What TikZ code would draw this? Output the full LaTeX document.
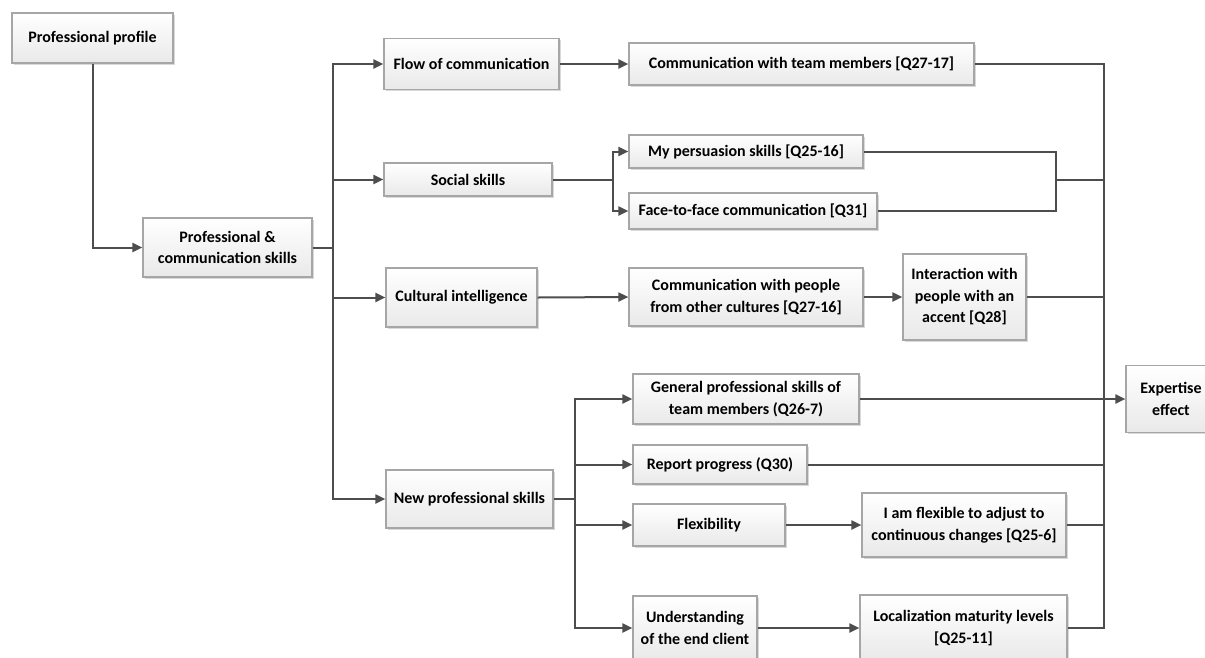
\documentclass[tikz,border=0pt]{standalone}
\usepackage{fontspec}
\setmainfont{Carlito}
\usetikzlibrary{arrows.meta,shadows}
\definecolor{linec}{HTML}{4D4D4D}
\definecolor{boxline}{HTML}{A6A6A6}
\definecolor{boxbot}{HTML}{E9E9E9}
\begin{document}
\begin{tikzpicture}[x=1pt,y=-1pt,
  box/.style={draw=boxline, line width=1.2pt, top color=white, bottom color=boxbot,
    drop shadow={shadow xshift=1.5pt, shadow yshift=-1.5pt, fill=black, opacity=0.15},
    align=center, inner sep=2pt,
    font=\fontsize{16}{21.5}\selectfont\bfseries},
  conn/.style={draw=linec, line width=2pt},
  arr/.style={conn, -{Triangle[length=10pt,width=9pt]}}]
\useasboundingbox (0,0) rectangle (1205,657);

% nodes
\node[box, minimum width=161pt, minimum height=50pt] (prof) at (92.5,38) {Professional profile};
\node[box, minimum width=169pt, minimum height=59pt] (pcs) at (227.5,247.5) {Professional \&\\communication skills};
\node[box, minimum width=175pt, minimum height=51pt] (flow) at (471.5,64) {Flow of communication};
\node[box, minimum width=168pt, minimum height=33pt] (social) at (468,179.5) {Social skills};
\node[box, minimum width=151pt, minimum height=59pt] (cult) at (461.5,297.5) {Cultural intelligence};
\node[box, minimum width=167pt, minimum height=58pt] (newp) at (469.5,499) {New professional skills};
\node[box, minimum width=345pt, minimum height=42pt] (cteam) at (801.5,64) {Communication with team members [Q27-17]};
\node[box, minimum width=234pt, minimum height=33pt] (pers) at (746,151.5) {My persuasion skills [Q25-16]};
\node[box, minimum width=248pt, minimum height=36pt] (face) at (753,211) {Face-to-face communication [Q31]};
\node[box, minimum width=234pt, minimum height=58pt] (cpeople) at (746,297) {Communication with people\\from other cultures [Q27-16]};
\node[box, minimum width=123pt, minimum height=86pt] (inter) at (964.5,297) {Interaction with\\people with an\\accent [Q28]};
\node[box, minimum width=226pt, minimum height=50pt] (gen) at (746,399) {General professional skills of\\team members (Q26-7)};
\node[box, minimum width=174pt, minimum height=39pt] (rep) at (720,464.5) {Report progress (Q30)};
\node[box, minimum width=152pt, minimum height=42pt] (flex) at (709,525) {Flexibility};
\node[box, minimum width=204pt, minimum height=64pt] (iflex) at (964,525) {I am flexible to adjust to\\continuous changes [Q25-6]};
\node[box, minimum width=124pt, minimum height=64pt] (und) at (695,628) {Understanding\\of the end client};
\node[box, minimum width=207pt, minimum height=66pt] (loc) at (963.5,628) {Localization maturity levels\\{[Q25-11]}};
\node[box, minimum width=90pt, minimum height=67pt] (exp) at (1171,399) {Expertise\\effect};

% branch points
\coordinate (b1) at (333,247.5);
\coordinate (b2) at (613,179.5);
\coordinate (b3) at (575,499);
\coordinate (m1) at (1104,64);
\coordinate (m2) at (1104,628);
\coordinate (s1) at (1056,179.5);

% left part
\draw[arr] (prof.south) |- (pcs.west);
\draw[conn] (pcs.east) -- (b1);
\draw[arr] (b1) |- (flow.west);
\draw[arr] (b1) |- (social.west);
\draw[arr] (b1) |- (cult.west);
\draw[arr] (b1) |- (newp.west);

% middle
\draw[arr] (flow.east) -- (cteam.west);
\draw[conn] (social.east) -- (b2);
\draw[arr] (b2) |- (pers.west);
\draw[arr] (b2) |- (face.west);
\draw[arr] (cult.east) -- (cpeople.west);
\draw[arr] (cpeople.east) -- (inter.west);
\draw[conn] (newp.east) -- (b3);
\draw[arr] (b3) |- (gen.west);
\draw[arr] (b3) |- (rep.west);
\draw[arr] (b3) |- (flex.west);
\draw[arr] (b3) |- (und.west);
\draw[arr] (flex.east) -- (iflex.west);
\draw[arr] (und.east) -- (loc.west);

% merge
\draw[conn] (cteam.east) -- (m1) -- (m2) -- (loc.east);
\draw[conn] (pers.east) -| (s1);
\draw[conn] (face.east) -| (s1) -- (s1 -| m1);
\draw[conn] (inter.east) -- (inter.east -| m1);
\draw[conn] (rep.east) -- (rep.east -| m1);
\draw[conn] (iflex.east) -- (iflex.east -| m1);
\draw[arr] (gen.east) -- (exp.west);
\end{tikzpicture}
\end{document}
